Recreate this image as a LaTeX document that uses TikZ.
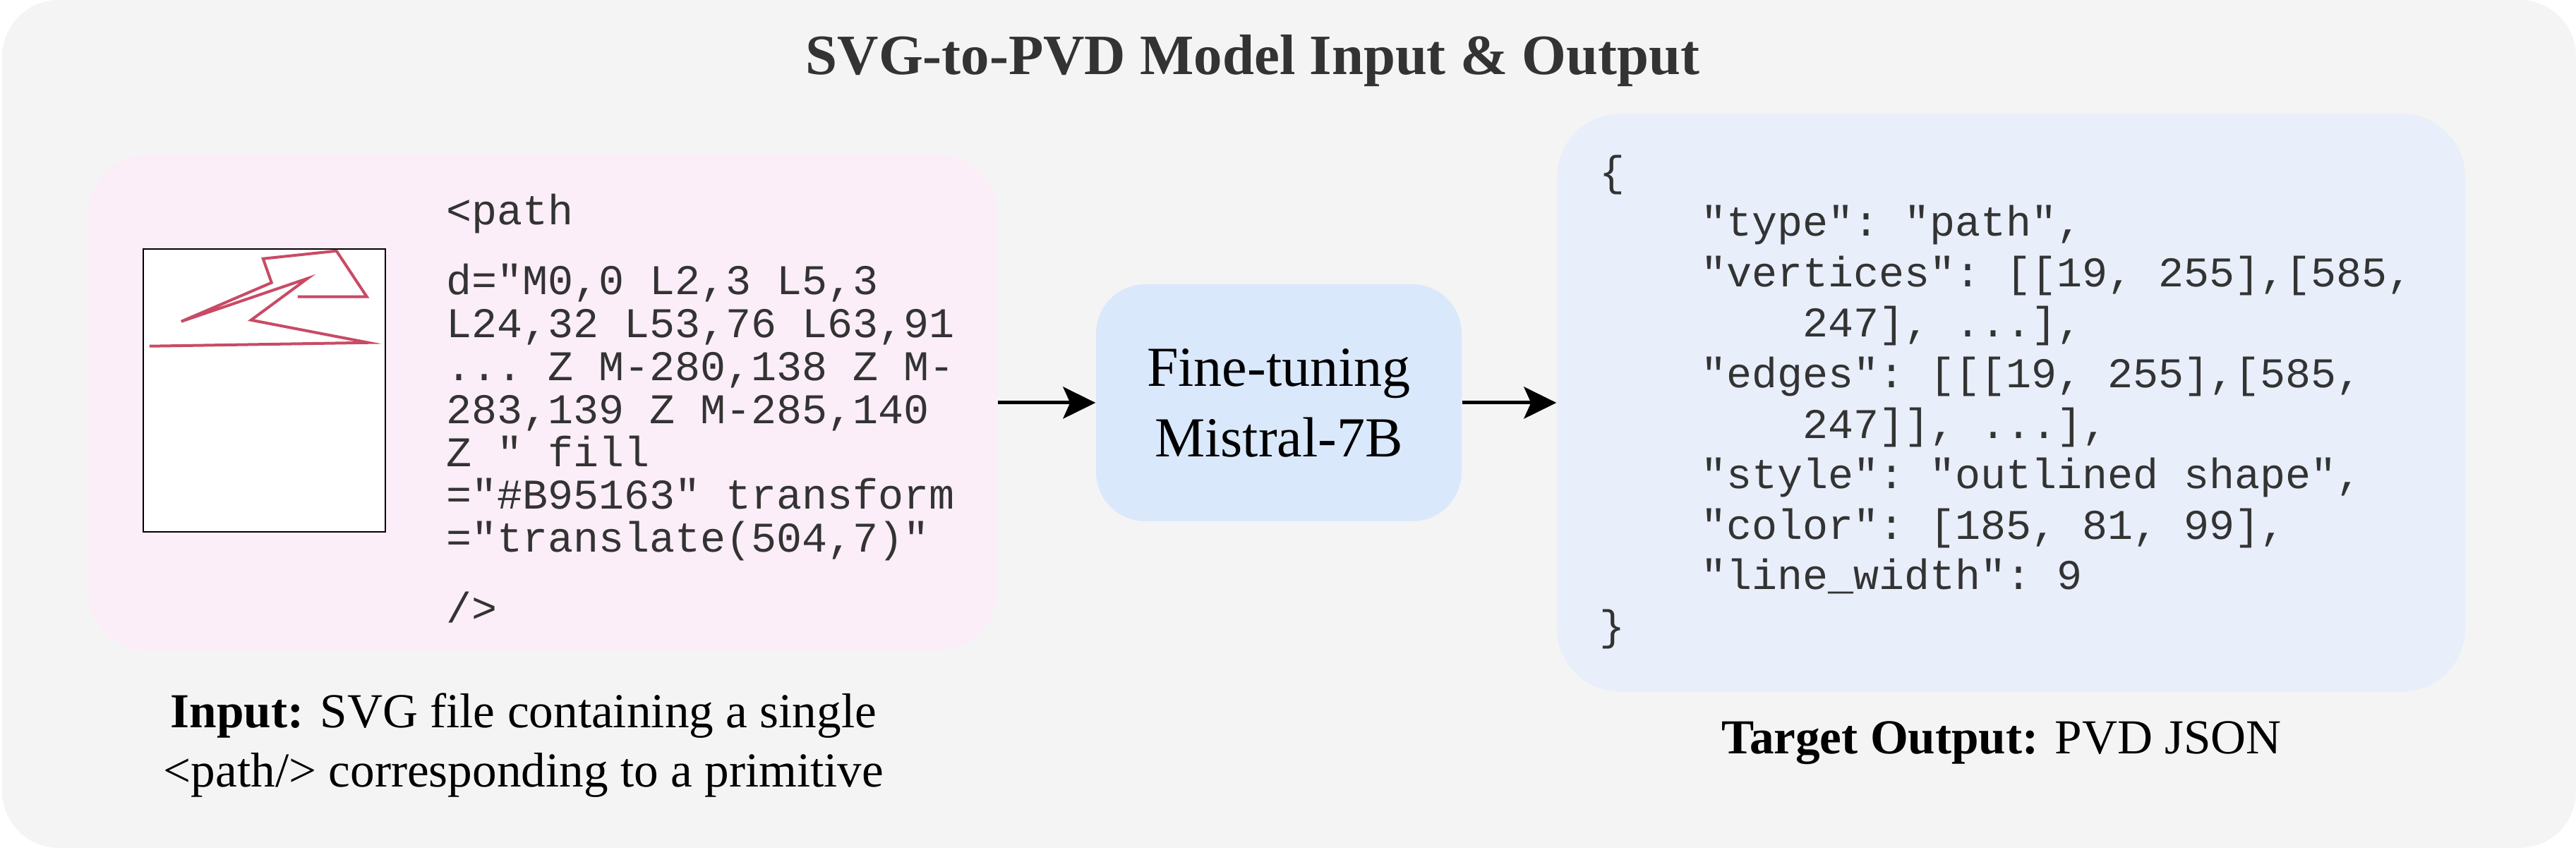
\documentclass[tikz,border=0pt]{standalone}
\usepackage{fontspec}
\setmainfont{Liberation Serif}
\setmonofont{Liberation Mono}
\usepackage{tikz}
\usetikzlibrary{arrows.meta, positioning, backgrounds}
\usepackage{xcolor}
\definecolor{bggray}{HTML}{F4F4F4}
\definecolor{inpink}{HTML}{FBEEF8}
\definecolor{modelblue}{HTML}{DAE8FC}
\definecolor{outblue}{HTML}{E8EEFA}
\definecolor{pathred}{HTML}{C84B65}
\definecolor{codegray}{HTML}{333333}
\newcommand{\codeind}[1]{\hspace*{#1em}}

\begin{document}
\begin{tikzpicture}[
  panel/.style={rectangle, rounded corners=#1, draw=none, inner sep=0pt},
  code/.style={font=\fontsize{17.07}{17.3}\selectfont\ttfamily, text=codegray,
               align=left, inner sep=0pt},
  json/.style={code, font=\fontsize{17.07}{20.37}\selectfont\ttfamily},
  caption/.style={font=\fontsize{19.7}{23.9}\selectfont, align=center, inner sep=0pt},
  flow/.style={-{Stealth[length=0.46cm, width=0.45cm, inset=0.1cm]}, line width=0.05cm, black},
  svgline/.style={draw=pathred, line width=0.04cm}
]
\useasboundingbox (0,0) rectangle (36.5,12.05);

% Outer frame
\fill[bggray, rounded corners=0.8cm] (0.03,0.03) rectangle (36.5,12.05);

\node[font=\fontsize{23}{28}\selectfont\bfseries, text=codegray, anchor=base] (title) at (17.75,10.99) {SVG-to-PVD Model Input \& Output};

% Input, model and output boxes
\node[panel=0.85cm, fill=inpink, minimum width=12.88cm, minimum height=7.03cm] (inbox) at (7.69,6.34) {};
\node[panel=0.7cm, fill=modelblue, minimum width=5.18cm, minimum height=3.36cm, align=center,
      font=\fontsize{22.8}{28.45}\selectfont] (model) at (18.12,6.34) {Fine-tuning\\Mistral-7B};
\node[panel=0.9cm, fill=outblue, minimum width=12.87cm, minimum height=8.19cm] (outbox) at (28.495,6.34) {};

% Rendered SVG primitive
\node[rectangle, draw=black, line width=0.7pt, fill=white, minimum width=3.43cm, minimum height=4.01cm] (svgcanvas) at (3.745,6.515) {};
\begin{scope}[shift={(svgcanvas.north west)}]
  \draw[svgline] (0.10,-1.39) -- (3.20,-1.34) -- (1.54,-1.02) -- (2.34,-0.43) -- (0.55,-1.04)
    -- (1.83,-0.49) -- (1.71,-0.15) -- (2.75,-0.04) -- (3.18,-0.69) -- (2.20,-0.69);
\end{scope}

\node[code, anchor=north west] (svgcode) at (6.32,9.31) {<path\\[0.39cm]
d="M0,0 L2,3 L5,3\\
L24,32 L53,76 L63,91\\
... Z M-280,138 Z M-\\
283,139 Z M-285,140\\
Z " fill\\
="\#B95163" transform\\
="translate(504,7)"\\[0.39cm]
/>};

\node[json, anchor=north west] (jsoncode) at (22.66,9.86) {\{\\
\codeind{2.4}"type": "path",\\
\codeind{2.4}"vertices": [[19, 255],[585,\\
\codeind{4.8}247], ...],\\
\codeind{2.4}"edges": [[[19, 255],[585,\\
\codeind{4.8}247]], ...],\\
\codeind{2.4}"style": "outlined shape",\\
\codeind{2.4}"color": [185, 81, 99],\\
\codeind{2.4}"line\_width": 9\\
\}};

% Captions
\node[caption, anchor=north] (inlabel) at (7.42,2.23) {\textbf{Input:} SVG file containing a single\\<path/> corresponding to a primitive};
\node[caption, anchor=base] (outlabel) at (28.36,1.36) {\textbf{Target Output:} PVD JSON};

% Data flow
\draw[flow] (inbox) -- (model);
\draw[flow] (model) -- (outbox);

\end{tikzpicture}
\end{document}
